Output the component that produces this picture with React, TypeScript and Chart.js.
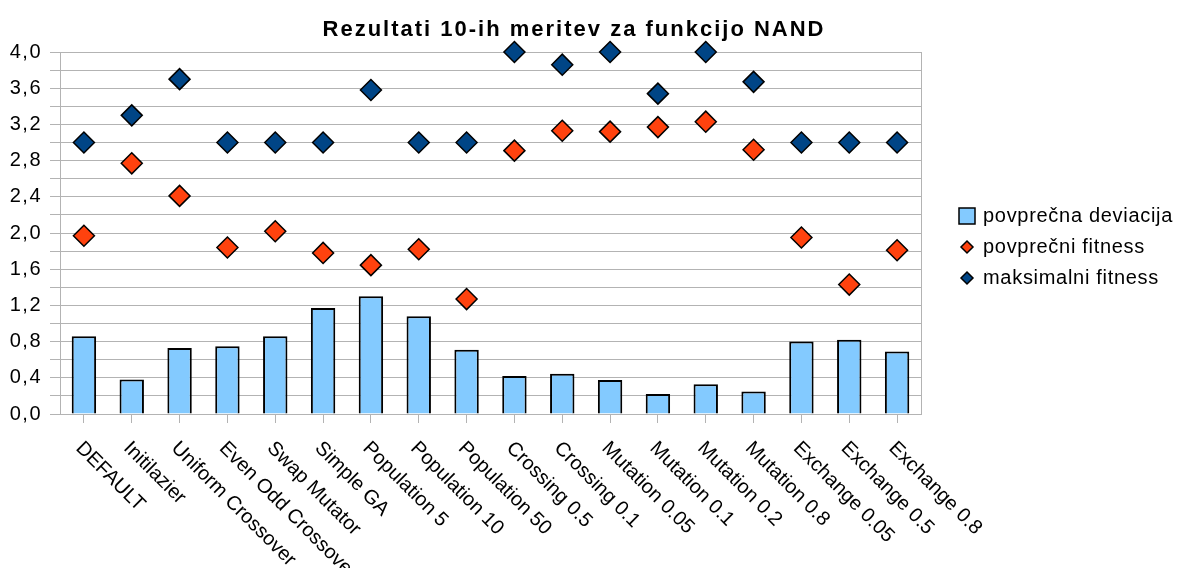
import React, { useEffect, useRef } from 'react';
import { Chart, registerables } from 'chart.js';

Chart.register(...registerables);

const chartTitle = 'Rezultati 10-ih meritev za funkcijo NAND';

const categories = [
  'DEFAULT',
  'Initilazier',
  'Uniform Crossover',
  'Even Odd Crossover',
  'Swap Mutator',
  'Simple GA',
  'Population 5',
  'Population 10',
  'Population 50',
  'Crossing 0.5',
  'Crossing 0.1',
  'Mutation 0.05',
  'Mutation 0.1',
  'Mutation 0.2',
  'Mutation 0.8',
  'Exchange 0.05',
  'Exchange 0.5',
  'Exchange 0.8',
];

const seriesNames = ['povprečna deviacija', 'povprečni fitness', 'maksimalni fitness'];

const deviation = [0.86, 0.38, 0.73, 0.75, 0.86, 1.17, 1.3, 1.08, 0.71, 0.42, 0.445, 0.375, 0.22, 0.33, 0.25, 0.8, 0.82, 0.69];
const avgFitness = [1.97, 2.77, 2.41, 1.84, 2.02, 1.78, 1.645, 1.82, 1.27, 2.91, 3.13, 3.12, 3.17, 3.23, 2.92, 1.95, 1.43, 1.81];
const maxFitness = [3.0, 3.3, 3.7, 3.0, 3.0, 3.0, 3.58, 3.0, 3.0, 4.0, 3.86, 4.0, 3.54, 4.0, 3.67, 3.0, 3.0, 3.0];

const yMin = 0;
const yMax = 4;
const yStep = 0.2;

const FONT = "'Liberation Sans', Arial, sans-serif";
const GRID = '#b3b3b3';
const BAR = '#83caff';
const AVG = '#ff420e';
const MAX = '#004586';

function diamond(ctx: CanvasRenderingContext2D, x: number, y: number, r: number, fill: string) {
  ctx.beginPath();
  ctx.moveTo(x, y - r);
  ctx.lineTo(x + r, y);
  ctx.lineTo(x, y + r);
  ctx.lineTo(x - r, y);
  ctx.closePath();
  ctx.fillStyle = fill;
  ctx.fill();
  ctx.strokeStyle = '#000';
  ctx.lineWidth = 1.5;
  ctx.stroke();
}

const decorPlugin = {
  id: 'decor',
  beforeDraw(chart: any) {
    const ctx = chart.ctx as CanvasRenderingContext2D;
    ctx.save();
    ctx.fillStyle = '#fff';
    ctx.fillRect(0, 0, chart.width, chart.height);
    ctx.restore();
    (ctx as any).letterSpacing = '1.5px';
  },
  beforeDatasetsDraw(chart: any) {
    const ctx = chart.ctx as CanvasRenderingContext2D;
    const { top, bottom, right } = chart.chartArea;
    ctx.save();
    ctx.strokeStyle = GRID;
    ctx.lineWidth = 1;
    ctx.beginPath();
    const xr = Math.round(right) + 0.5;
    ctx.moveTo(xr, top);
    ctx.lineTo(xr, bottom);
    ctx.stroke();
    ctx.restore();
  },
  afterDraw(chart: any) {
    const ctx = chart.ctx as CanvasRenderingContext2D;
    const area = chart.chartArea;
    ctx.save();
    // title
    (ctx as any).letterSpacing = '2px';
    ctx.font = `bold 22px ${FONT}`;
    ctx.fillStyle = '#000';
    ctx.textAlign = 'center';
    ctx.textBaseline = 'alphabetic';
    ctx.fillText(chartTitle, 574, 35.5);

    // rotated category labels
    const xs = chart.scales.x;
    (ctx as any).letterSpacing = '0px';
    ctx.font = `20px ${FONT}`;
    ctx.textAlign = 'left';
    categories.forEach((c, i) => {
      const px = xs.getPixelForValue(i);
      ctx.save();
      ctx.translate(px - 9, area.bottom + 35);
      ctx.rotate(Math.PI / 4);
      ctx.fillText(c, 0, 0);
      ctx.restore();
    });

    // legend
    (ctx as any).letterSpacing = '0.7px';
    ctx.font = `20px ${FONT}`;
    ctx.textAlign = 'left';
    ctx.textBaseline = 'middle';
    const lx = area.right + 38;
    const rows = [216, 247, 278];
    ctx.fillStyle = BAR;
    ctx.fillRect(lx, rows[0] - 8, 16, 16);
    ctx.strokeStyle = '#000';
    ctx.lineWidth = 1.5;
    ctx.strokeRect(lx, rows[0] - 8, 16, 16);
    diamond(ctx, lx + 8, rows[1], 6, AVG);
    diamond(ctx, lx + 8, rows[2], 6, MAX);
    ctx.fillStyle = '#000';
    seriesNames.forEach((n, i) => {
      ctx.fillText(n, lx + 24, rows[i]);
    });
    ctx.restore();
  },
};

export default function App() {
  const ref = useRef<HTMLCanvasElement | null>(null);

  useEffect(() => {
    if (!ref.current) return;
    const chart = new Chart(ref.current, {
      type: 'bar',
      data: {
        labels: categories,
        datasets: [
          {
            type: 'line',
            label: seriesNames[2],
            data: maxFitness,
            showLine: false,
            pointStyle: 'rectRot',
            pointRadius: 10.5,
            pointBackgroundColor: MAX,
            pointBorderColor: '#000',
            pointBorderWidth: 1.5,
            order: 1,
            clip: false,
          } as any,
          {
            type: 'line',
            label: seriesNames[1],
            data: avgFitness,
            showLine: false,
            pointStyle: 'rectRot',
            pointRadius: 10.5,
            pointBackgroundColor: AVG,
            pointBorderColor: '#000',
            pointBorderWidth: 1.5,
            order: 2,
            clip: false,
          } as any,
          {
            type: 'bar',
            label: seriesNames[0],
            data: deviation,
            backgroundColor: BAR,
            borderColor: '#000',
            borderWidth: 2,
            barPercentage: 0.51,
            categoryPercentage: 1.0,
            order: 3,
          } as any,
        ],
      },
      options: {
        responsive: false,
        animation: false,
        events: [],
        layout: { padding: { top: 52, right: 264, left: 0, bottom: 0 } },
        plugins: {
          legend: { display: false },
          title: { display: false },
          tooltip: { enabled: false },
        },
        scales: {
          x: {
            afterFit: (s: any) => {
              s.height = 154;
            },
            ticks: { display: false },
            grid: {
              offset: false,
              drawOnChartArea: false,
              drawTicks: true,
              tickLength: 9,
              tickColor: GRID,
            },
            border: { display: true, color: GRID },
          },
          y: {
            min: yMin,
            max: yMax,
            afterFit: (s: any) => {
              s.width = 60;
            },
            ticks: {
              stepSize: yStep,
              autoSkip: false,
              maxTicksLimit: 100,
              padding: 8,
              color: '#000',
              font: { size: 20, family: FONT },
              callback: (v: any) => {
                const k = Math.round(Number(v) * 10);
                return k % 4 === 0 ? (k / 10).toFixed(1).replace('.', ',') : '';
              },
            },
            grid: { color: GRID, tickColor: GRID, tickLength: 10, lineWidth: 1 },
            border: { display: true, color: GRID },
          },
        },
      },
      plugins: [decorPlugin],
    });
    return () => chart.destroy();
  }, []);

  return (
    <div style={{ position: 'absolute', left: 0, top: 0, width: 1185, height: 568, background: '#fff' }}>
      <canvas ref={ref} width={1185} height={568} />
    </div>
  );
}
